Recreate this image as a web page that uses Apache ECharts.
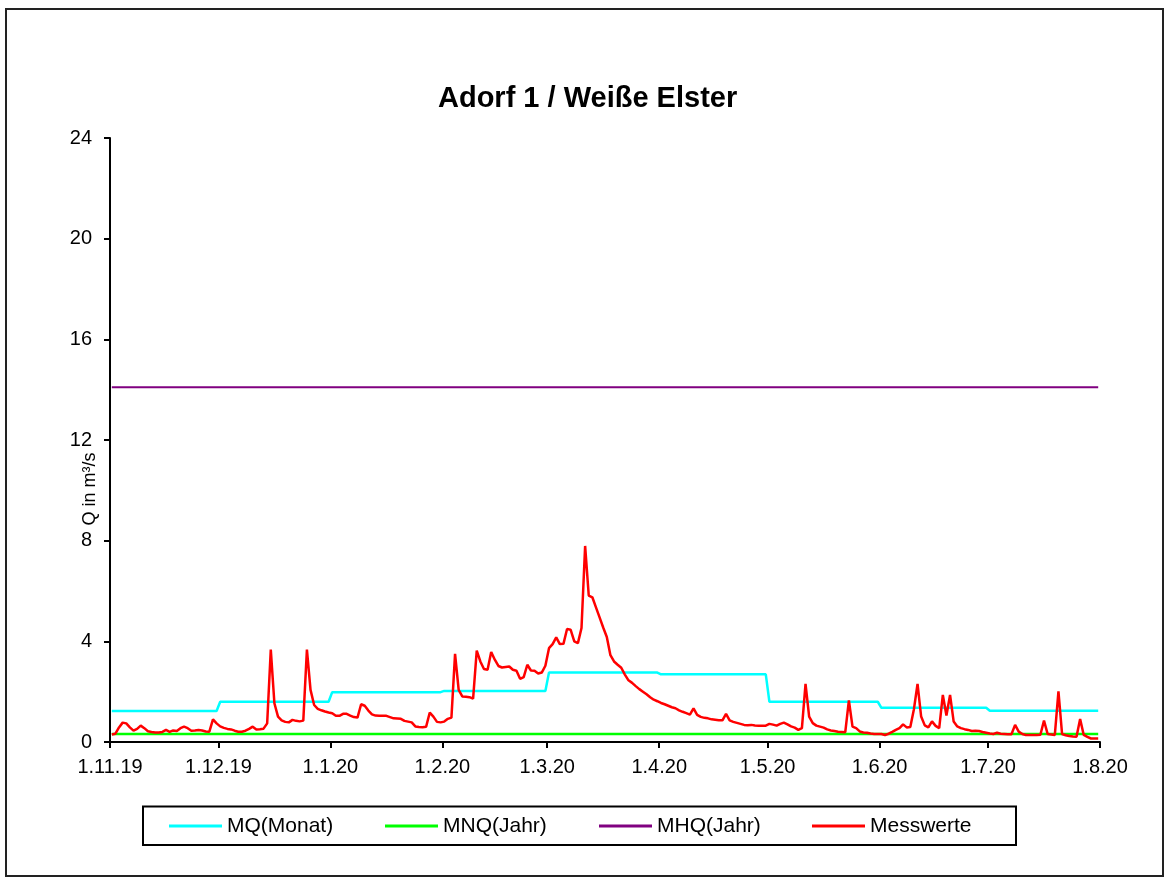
<!DOCTYPE html>
<html><head><meta charset="utf-8">
<script src="https://cdn.jsdelivr.net/npm/echarts@6/dist/echarts.min.js"></script>
<style>html,body{margin:0;padding:0;background:#fff}#c{width:1169px;height:881px}</style>
</head><body><div id="c"></div><script>
// ---- data ----
const tickLabels = ['1.11.19','1.12.19','1.1.20','1.2.20','1.3.20','1.4.20','1.5.20','1.6.20','1.7.20','1.8.20'];
const monthLengths = [30,31,31,29,31,30,31,30,31]; // Nov 2019 .. Jul 2020
const mqMonat = [1.23,1.60,1.98,2.03,2.76,2.69,1.60,1.36,1.24];
const mnqJahr = 0.32;
const mhqJahr = 14.1;
const messwerte = [
// Nov
0.30,0.33,0.58,0.77,0.74,0.58,0.45,0.52,0.65,0.55,0.43,0.40,0.38,0.38,0.40,0.48,0.40,0.46,0.44,0.55,
0.61,0.55,0.45,0.46,0.48,0.46,0.42,0.41,0.90,0.74,
// Dec
0.62,0.56,0.52,0.50,0.45,0.41,0.41,0.45,0.52,0.61,0.50,0.51,0.53,0.74,3.67,1.54,1.01,0.86,0.80,0.78,
0.88,0.84,0.82,0.85,3.67,2.07,1.47,1.32,1.26,1.21,1.17,
// Jan
1.14,1.04,1.04,1.12,1.12,1.05,0.99,0.97,1.50,1.44,1.25,1.10,1.05,1.04,1.04,1.04,0.99,0.94,0.93,0.92,
0.84,0.81,0.78,0.62,0.60,0.59,0.61,1.17,1.01,0.80,0.78,
// Feb
0.81,0.92,0.97,3.50,2.07,1.81,1.80,1.78,1.72,3.63,3.20,2.90,2.87,3.58,3.27,3.02,2.96,2.98,3.00,2.87,
2.83,2.51,2.58,3.07,2.84,2.83,2.72,2.76,3.03,
// Mar
3.73,3.89,4.16,3.89,3.90,4.49,4.46,4.00,3.93,4.53,7.79,5.82,5.75,5.35,4.95,4.55,4.17,3.45,3.20,3.07,
2.95,2.68,2.45,2.35,2.22,2.10,2.00,1.90,1.78,1.68,1.62,
// Apr
1.55,1.50,1.44,1.38,1.34,1.26,1.20,1.15,1.09,1.34,1.08,1.00,0.96,0.94,0.90,0.88,0.86,0.86,1.12,0.86,
0.80,0.76,0.72,0.68,0.67,0.68,0.66,0.65,0.65,0.65,
// May
0.72,0.69,0.65,0.72,0.77,0.70,0.62,0.57,0.48,0.55,2.31,1.01,0.75,0.65,0.61,0.57,0.50,0.46,0.44,0.41,
0.40,0.39,1.65,0.61,0.55,0.42,0.38,0.37,0.34,0.32,0.32,
// Jun
0.32,0.28,0.33,0.40,0.48,0.55,0.70,0.58,0.60,1.30,2.31,1.01,0.66,0.58,0.82,0.64,0.55,1.87,1.05,1.87,
0.81,0.62,0.55,0.51,0.48,0.44,0.45,0.44,0.40,0.37,
// Jul
0.34,0.32,0.37,0.33,0.32,0.31,0.31,0.68,0.41,0.32,0.28,0.28,0.28,0.28,0.29,0.85,0.32,0.30,0.28,2.01,
0.32,0.27,0.24,0.22,0.21,0.91,0.28,0.20,0.14,0.14,0.14
];

// ---- derived ----
const tickDays = [0];
monthLengths.forEach(l => tickDays.push(tickDays[tickDays.length - 1] + l));
const totalDays = tickDays[tickDays.length - 1];
const monthOf = i => { let m = 0; while (m + 1 < monthLengths.length && i >= tickDays[m + 1]) m++; return m; };
const redData = messwerte.map((v, i) => [i + 0.5, v]);
const mqData = messwerte.map((v, i) => [i + 0.5, mqMonat[monthOf(i)]]);
const mnqData = [[0.5, mnqJahr], [totalDays - 0.5, mnqJahr]];
const mhqData = [[0.5, mhqJahr], [totalDays - 0.5, mhqJahr]];

const FONT = "'Liberation Sans', Arial, sans-serif";
const chart = echarts.init(document.getElementById('c'), null, {renderer: 'canvas'});
const legendBase = {
  orient: 'horizontal', top: 815, padding: 0, itemWidth: 53, itemHeight: 3, itemGap: 5,
  icon: 'rect', selectedMode: false,
  textStyle: {fontFamily: FONT, fontSize: 21, color: '#000', lineHeight: 22, padding: [0,0,0,0]}
};
chart.setOption({
  backgroundColor: '#fff',
  animation: false,
  title: {
    text: 'Adorf 1 / Weiße Elster', left: 438, top: 82, padding: 0,
    textStyle: {fontFamily: FONT, fontSize: 29, fontWeight: 'bold', color: '#000', lineHeight: 34}
  },
  grid: {left: 110, right: 69, top: 138, bottom: 139, containLabel: false},
  xAxis: {
    type: 'value', min: 0, max: totalDays,
    axisLine: {show: true, onZero: false, lineStyle: {color: '#000', width: 2}},
    axisTick: {show: true, inside: false, length: 6, customValues: tickDays, lineStyle: {color: '#000', width: 2}},
    axisLabel: {show: true, customValues: tickDays, margin: 15, fontFamily: FONT, fontSize: 20, color: '#000',
      formatter: v => tickLabels[tickDays.indexOf(Math.round(v))] || ''},
    splitLine: {show: false}
  },
  yAxis: {
    type: 'value', min: 0, max: 24, interval: 4,
    axisLine: {show: true, lineStyle: {color: '#000', width: 2}},
    axisTick: {show: true, inside: false, length: 6, lineStyle: {color: '#000', width: 2}},
    axisLabel: {margin: 18, fontFamily: FONT, fontSize: 20, color: '#000'},
    splitLine: {show: false}
  },
  legend: [
    Object.assign({}, legendBase, {left: 169, data: ['MQ(Monat)']}),
    Object.assign({}, legendBase, {left: 385, data: ['MNQ(Jahr)']}),
    Object.assign({}, legendBase, {left: 599, data: ['MHQ(Jahr)']}),
    Object.assign({}, legendBase, {left: 812, data: ['Messwerte']})
  ],
  graphic: [
    {type: 'rect', shape: {x: 6, y: 9, width: 1157, height: 867}, style: {fill: 'none', stroke: '#222', lineWidth: 2}, silent: true},
    {type: 'rect', shape: {x: 143, y: 806.5, width: 873, height: 38.5}, style: {fill: 'none', stroke: '#000', lineWidth: 2}, silent: true},
    {type: 'text', x: 90, y: 489, rotation: Math.PI / 2,
      style: {text: 'Q in m³/s', fontFamily: FONT, fontSize: 18, fill: '#000', align: 'center', verticalAlign: 'middle'}, silent: true}
  ],
  series: [
    {name: 'MQ(Monat)', type: 'line', data: mqData, showSymbol: false, symbol: 'none', color: '#00FFFF',
      lineStyle: {color: '#00FFFF', width: 2.5}},
    {name: 'MNQ(Jahr)', type: 'line', data: mnqData, showSymbol: false, symbol: 'none', color: '#00FF00',
      lineStyle: {color: '#00FF00', width: 2.5}},
    {name: 'MHQ(Jahr)', type: 'line', data: mhqData, showSymbol: false, symbol: 'none', color: '#800080',
      lineStyle: {color: '#800080', width: 2}},
    {name: 'Messwerte', type: 'line', data: redData, showSymbol: false, symbol: 'none', color: '#FF0000',
      lineStyle: {color: '#FF0000', width: 2.5}}
  ]
});
</script></body></html>
